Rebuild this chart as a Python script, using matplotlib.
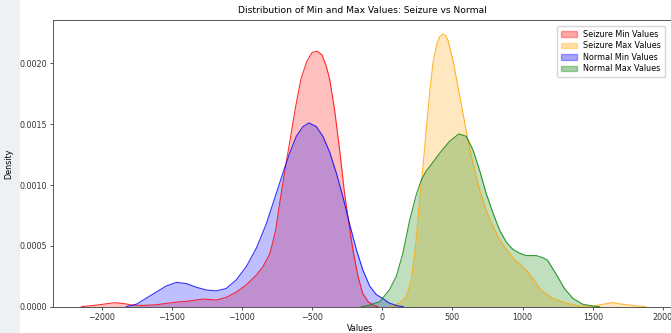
import matplotlib.pyplot as plt
from matplotlib.patches import Rectangle, Patch

# density curves (x = value, y = density)
seizure_min_x = [-2146, -2062, -1991, -1908, -1837, -1789, -1706, -1611, -1540, -1468, -1373,
                 -1278, -1183, -1112, -1041, -969, -898, -850, -800, -760, -730, -700, -660,
                 -620, -580, -540, -500, -466, -430, -400, -375, -340, -300, -270, -245, -210,
                 -175, -140, -100, -60, -30]
seizure_min_y = [0, 0.00001, 0.00002, 0.000033, 0.000025, 0.000014, 0.00001, 0.000016, 0.000027,
                 0.000038, 0.000047, 0.000063, 0.000055, 0.000077, 0.00012, 0.00018, 0.00026,
                 0.00033, 0.00044, 0.00063, 0.00086, 0.00108, 0.00135, 0.00163, 0.00187,
                 0.00201, 0.00209, 0.00210, 0.00207, 0.00198, 0.00187, 0.00162, 0.00125,
                 0.00094, 0.00074, 0.00047, 0.00026, 0.00011, 0.00004, 0.00001, 0]

seizure_max_x = [60, 124, 171, 207, 237, 266, 290, 313, 337, 361, 389, 410, 432, 450, 468, 503,
                 539, 575, 610, 646, 694, 741, 789, 836, 884, 932, 979, 1026, 1074, 1121, 1160,
                 1214, 1310, 1405, 1500, 1571, 1643, 1714, 1786, 1880]
seizure_max_y = [0, 0.00003, 0.00008, 0.00022, 0.00049, 0.00088, 0.00115, 0.00145, 0.00175,
                 0.0020, 0.00216, 0.00222, 0.00224, 0.00223, 0.00219, 0.00203, 0.00181, 0.00159,
                 0.00137, 0.00118, 0.00096, 0.00079, 0.00066, 0.00055, 0.00047, 0.00040, 0.00035,
                 0.0003, 0.00023, 0.00015, 0.00011, 0.00007, 0.00003, 0.000005, 0.000005,
                 0.00002, 0.000033, 0.00002, 0.00001, 0]

normal_min_x = [-1825, -1753, -1682, -1611, -1540, -1468, -1397, -1326, -1254, -1183, -1112,
                -1041, -969, -898, -827, -756, -708, -661, -613, -565, -523, -470, -423, -375,
                -328, -280, -233, -185, -138, -90, -43, 0, 50, 100, 150]
normal_min_y = [0, 0.00002, 0.00007, 0.00012, 0.00017, 0.0002, 0.00019, 0.00016, 0.000137,
                0.00013, 0.00015, 0.00022, 0.00033, 0.00048, 0.00068, 0.00093, 0.0011, 0.00126,
                0.0014, 0.00148, 0.00151, 0.00148, 0.0014, 0.00127, 0.0011, 0.0009, 0.00068,
                0.00047, 0.0003, 0.00017, 0.0001, 0.00007, 0.00003, 0.00001, 0]

normal_max_x = [-150, -100, -50, -19, 52, 100, 147, 195, 242, 278, 310, 337, 408, 480, 546, 599,
                646, 694, 741, 789, 836, 884, 932, 979, 1026, 1098, 1150, 1179, 1238, 1298, 1357,
                1429, 1500, 1550]
normal_max_y = [0, 0.00001, 0.00003, 0.00004, 0.00014, 0.00025, 0.00044, 0.00071, 0.00092,
                0.00104, 0.00111, 0.00115, 0.00126, 0.00136, 0.00142, 0.0014, 0.00129, 0.00112,
                0.00093, 0.00077, 0.00063, 0.00053, 0.00047, 0.00044, 0.00042, 0.00042, 0.0004,
                0.00038, 0.00027, 0.00015, 0.00007, 0.00002, 0.000005, 0]

series = [
    (seizure_min_x, seizure_min_y, 'red', 'Seizure Min Values'),
    (seizure_max_x, seizure_max_y, 'orange', 'Seizure Max Values'),
    (normal_min_x, normal_min_y, 'blue', 'Normal Min Values'),
    (normal_max_x, normal_max_y, 'green', 'Normal Max Values'),
]

plt.rcParams['font.size'] = 5.8

fig = plt.figure(figsize=(6.71, 3.33), dpi=100)
# light screenshot margin on the left
fig.patches.append(Rectangle((0, 0), 0.03, 1, transform=fig.transFigure,
                             facecolor='#eef1f4', edgecolor='none', zorder=-1))

# axes run past the right edge, as in the cropped screenshot
ax = fig.add_axes([53 / 671, 1 - 306.7 / 333, 627 / 671, 286.7 / 333])
for xs, ys, col, lab in series:
    ax.fill_between(xs, ys, 0, color=col, alpha=0.25, linewidth=0, label=lab)
    ax.plot(xs, ys, color=col, lw=0.8, alpha=0.8)

ax.set_xlim(-2347, 2122)
ax.set_ylim(0, 0.002356)
ax.set_xticks([-2000, -1500, -1000, -500, 0, 500, 1000, 1500, 2000])
ax.set_yticks([0, 0.0005, 0.0010, 0.0015, 0.0020])
ax.set_yticklabels(['0.0000', '0.0005', '0.0010', '0.0015', '0.0020'])
ax.tick_params(length=2.5, width=0.6, labelsize=5.8, colors='#333333', pad=2)
for s in ax.spines.values():
    s.set_linewidth(0.7)
    s.set_color('#555555')

ax.set_title('Distribution of Min and Max Values: Seizure vs Normal', fontsize=6.6, pad=5,
             x=(362 - 53) / 627)
ax.set_xlabel('Values', fontsize=5.8, labelpad=1)
ax.xaxis.set_label_coords((360 - 53) / 627, -0.06)
ax.set_ylabel('Density', fontsize=5.8, labelpad=4)

labels = [lab for _, _, _, lab in series]
handles = [Patch(facecolor=c, edgecolor=c, alpha=0.35) for _, _, c, _ in series]
ax.legend(handles, labels, loc='upper right', fontsize=5.8, frameon=True,
          handlelength=2, borderpad=0.5, labelspacing=0.3,
          bbox_to_anchor=(669 / 671, 1 - 22 / 333), bbox_transform=fig.transFigure)

fig.savefig('out.png', dpi=100)
